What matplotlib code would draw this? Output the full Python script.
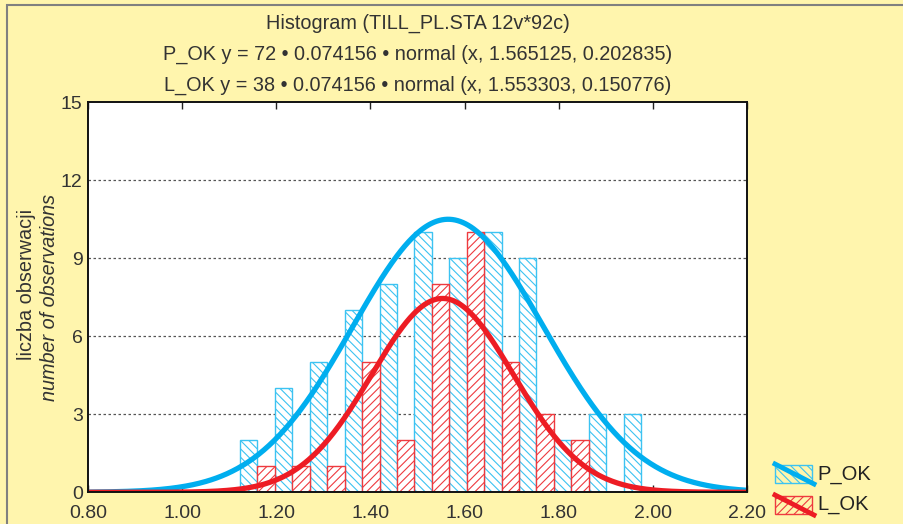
import numpy as np
import matplotlib
matplotlib.use('Agg')
import matplotlib.pyplot as plt
from matplotlib.patches import Rectangle
from matplotlib.lines import Line2D

# histogram counts per bin
p_ok_counts = [2, 4, 5, 7, 8, 10, 9, 10, 9, 2, 3, 3]
l_ok_counts = [1, 1, 1, 5, 2, 8, 10, 5, 3, 2, 0, 0]

# bins
bin_start = 1.1226
bin_width = 0.074156

# fitted normal curves (n, mean, sd) from the title
p_ok_fit = [72, 1.565125, 0.202835]
l_ok_fit = [38, 1.553303, 0.150776]

x_ticks = [0.80, 1.00, 1.20, 1.40, 1.60, 1.80, 2.00, 2.20]
y_ticks = [0, 3, 6, 9, 12, 15]

title_lines = [
    'Histogram (TILL_PL.STA 12v*92c)',
    'P_OK y = 72 \u2022 0.074156 \u2022 normal (x, 1.565125, 0.202835)',
    'L_OK y = 38 \u2022 0.074156 \u2022 normal (x, 1.553303, 0.150776)',
]

BLUE = '#00aeef'
BLUE_EDGE = '#3cc3f2'
RED = '#ed1c24'
RED_EDGE = '#ee3a3f'
YELLOW = '#fff5ad'

plt.rcParams['font.family'] = ['Liberation Sans', 'DejaVu Sans']
plt.rcParams['hatch.linewidth'] = 0.8


def normal_curve(x, fit):
    '''
    Expected count per bin: n * bin width * normal pdf
    '''
    n, mu, sd = fit
    return n * bin_width * np.exp(-0.5 * ((x - mu) / sd) ** 2) / (sd * np.sqrt(2 * np.pi))


W, H = 904, 524
fig = plt.figure(figsize=(W / 100, H / 100), dpi=100, facecolor=YELLOW)

# grey frame line (top and left)
fig.add_artist(Rectangle((7 / W, -0.5), 2, 1.5 - 5 / H, transform=fig.transFigure,
                         facecolor='none', edgecolor='#808080', lw=1.5, clip_on=False))

ax = fig.add_axes([88.3 / W, 1 - 492.3 / H, (746.7 - 88.3) / W, (492.3 - 102.3) / H])
ax.set_facecolor('white')

edges = bin_start + bin_width * np.arange(len(p_ok_counts))

# P_OK bars on the left half of each bin, L_OK on the right half
ax.bar(edges, p_ok_counts, width=bin_width / 2, align='edge', facecolor='white',
       edgecolor=BLUE_EDGE, hatch='\\\\\\\\', lw=1.0, zorder=2)
ax.bar(edges + bin_width / 2, l_ok_counts, width=bin_width / 2, align='edge', facecolor='white',
       edgecolor=RED_EDGE, hatch='////', lw=1.0, zorder=2)

xs = np.linspace(0.8, 2.2, 500)
ax.plot(xs, normal_curve(xs, p_ok_fit), color=BLUE, lw=3.8, zorder=3, solid_capstyle='butt')
ax.plot(xs, normal_curve(xs, l_ok_fit), color=RED, lw=3.8, zorder=4, solid_capstyle='butt')

ax.set_xlim(0.8, 2.2)
ax.set_ylim(0, 15)
ax.set_xticks(x_ticks)
ax.set_xticklabels([f'{t:.2f}' for t in x_ticks], fontsize=14)
ax.set_yticks(y_ticks)
ax.set_yticklabels([str(t) for t in y_ticks], fontsize=14)
ax.tick_params(axis='x', direction='in', length=5, width=1, top=True, pad=9, colors='#222222')
ax.tick_params(axis='y', length=0, pad=4, colors='#222222')
for t in ax.get_xticklabels() + ax.get_yticklabels():
    t.set_color('#333333')

# dotted horizontal grid
for y in y_ticks[1:-1]:
    ax.axhline(y, color='#555555', lw=0.9, ls=(0, (2, 2)), zorder=1)

for side in ['top', 'bottom', 'left', 'right']:
    ax.spines[side].set_linewidth(1.4)
    ax.spines[side].set_color('#111111')
    ax.spines[side].set_zorder(5)

# title lines
for txt, base in zip(title_lines, [29, 60, 91]):
    fig.text(417.5 / W, 1 - base / H, txt, ha='center', va='baseline', fontsize=14.3, color='#333333')

# y axis labels
fig.text(27 / W, 1 - 284 / H, 'liczba obserwacji', rotation=90, ha='center', va='center',
         fontsize=14.3, color='#333333')
fig.text(50 / W, 1 - 194 / H, 'number of observations', rotation=90, ha='center', va='top',
         fontsize=14.3, style='italic', color='#333333')

# legend drawn by hand (patch with a diagonal line through it)
for (y_top, name, col, edge, hatch) in [(465, 'P_OK', BLUE, BLUE_EDGE, '\\\\\\\\'),
                                        (496, 'L_OK', RED, RED_EDGE, '////')]:
    x0, x1, y0, y1 = 775, 812, y_top, y_top + 18
    fig.add_artist(Rectangle((x0 / W, 1 - y1 / H), (x1 - x0) / W, (y1 - y0) / H,
                             transform=fig.transFigure, facecolor='none', edgecolor=edge,
                             hatch=hatch, lw=1.0))
    fig.add_artist(Line2D([x0 / W, (x1 + 2) / W], [1 - (y0 - 1) / H, 1 - (y1 + 1) / H],
                          transform=fig.transFigure, color=col, lw=3.5))
    fig.text(817 / W, 1 - (y0 + 9) / H, name, ha='left', va='center', fontsize=14.5, color='#222222')

fig.savefig('out.png', dpi=100, facecolor=YELLOW)
